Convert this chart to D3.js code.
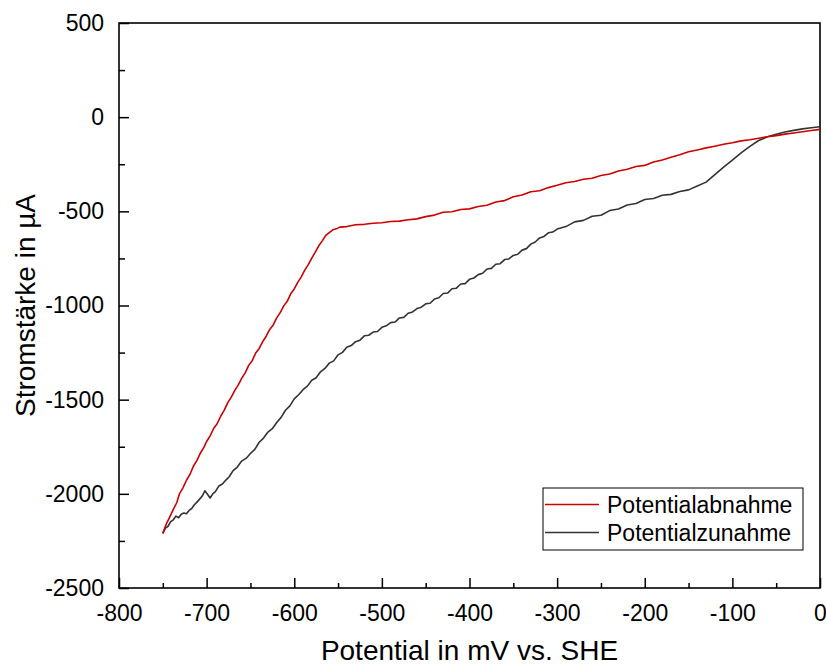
<!DOCTYPE html>
<html>
<head>
<meta charset="utf-8">
<script src="https://cdn.jsdelivr.net/npm/d3@7"></script>
<style>
  body { margin: 0; background: #fff; }
  #outer { width: 826px; height: 666px; }
</style>
</head>
<body>
<div id="outer"></div>
<script>
////////// Data //////////
const seriesNames = ['Potentialabnahme', 'Potentialzunahme'];
const seriesColors = ['#cc0000', '#333333'];

// Potential in mV vs. SHE, current in µA
const potentialabnahme = [
  [-750, -2210], [-746, -2160], [-742, -2122], [-738, -2083], [-734, -2046], [-731, -2000],
  [-727, -1968], [-723, -1928], [-719, -1897], [-715, -1852], [-711, -1822], [-707, -1783],
  [-703, -1752], [-700, -1722], [-696, -1692], [-692, -1653], [-688, -1628], [-684, -1588],
  [-680, -1557], [-676, -1517], [-672, -1488], [-668, -1452], [-664, -1423], [-660, -1387],
  [-656, -1358], [-652, -1318], [-648, -1293], [-644, -1252], [-640, -1228], [-636, -1192],
  [-632, -1163], [-628, -1127], [-624, -1103], [-620, -1066], [-616, -1038], [-612, -1002],
  [-608, -978], [-604, -938], [-600, -912], [-596, -877], [-592, -848], [-588, -812],
  [-584, -783], [-580, -748], [-576, -717], [-572, -683], [-568, -657], [-564, -628],
  [-560, -613], [-556, -598], [-552, -593], [-548, -584], [-540, -581], [-530, -571],
  [-520, -569], [-510, -563], [-500, -561], [-490, -554], [-480, -552], [-470, -545],
  [-460, -540], [-450, -528], [-440, -520], [-430, -505], [-420, -502], [-410, -490],
  [-400, -487], [-390, -474], [-380, -468], [-370, -450], [-360, -443], [-350, -423],
  [-340, -413], [-330, -396], [-320, -391], [-310, -374], [-300, -362], [-290, -348],
  [-280, -342], [-270, -330], [-260, -324], [-250, -310], [-240, -302], [-230, -286],
  [-220, -277], [-210, -262], [-200, -256], [-190, -238], [-180, -227], [-170, -213],
  [-160, -200], [-150, -184], [-140, -174], [-130, -163], [-120, -154], [-110, -144],
  [-100, -136], [-90, -126], [-80, -120], [-70, -112], [-60, -104], [-50, -98],
  [-40, -90], [-30, -84], [-20, -77], [-10, -71], [0, -65]
];

const potentialzunahme = [
  [-750, -2210], [-747, -2182], [-744, -2172], [-741, -2148], [-738, -2138], [-735, -2118],
  [-732, -2127], [-729, -2108], [-726, -2102], [-723, -2106], [-720, -2088], [-717, -2078],
  [-714, -2058], [-711, -2044], [-708, -2028], [-705, -2012], [-702, -1984], [-699, -2002],
  [-696, -2022], [-693, -2000], [-690, -1988], [-686, -1958], [-682, -1948], [-678, -1927],
  [-674, -1908], [-670, -1878], [-665, -1858], [-660, -1826], [-655, -1812], [-650, -1786],
  [-645, -1764], [-640, -1726], [-635, -1704], [-630, -1672], [-625, -1654], [-620, -1621],
  [-615, -1594], [-610, -1556], [-605, -1533], [-600, -1496], [-595, -1474], [-590, -1447],
  [-585, -1428], [-580, -1397], [-575, -1384], [-570, -1352], [-565, -1334], [-560, -1306],
  [-555, -1294], [-550, -1262], [-545, -1249], [-540, -1222], [-535, -1213], [-530, -1192],
  [-525, -1184], [-520, -1161], [-515, -1158], [-510, -1141], [-505, -1138], [-500, -1116],
  [-495, -1108], [-490, -1091], [-485, -1088], [-480, -1066], [-475, -1063], [-470, -1041],
  [-465, -1034], [-460, -1016], [-455, -1009], [-450, -991], [-445, -988], [-440, -966],
  [-435, -959], [-430, -936], [-425, -934], [-420, -911], [-415, -908], [-410, -886],
  [-405, -884], [-400, -861], [-395, -854], [-390, -836], [-385, -829], [-380, -806],
  [-375, -803], [-370, -781], [-365, -778], [-360, -756], [-355, -753], [-350, -734],
  [-345, -728], [-340, -706], [-335, -698], [-330, -674], [-325, -663], [-320, -641],
  [-315, -633], [-310, -614], [-305, -610], [-300, -594], [-290, -581], [-280, -556],
  [-270, -548], [-260, -526], [-250, -521], [-240, -496], [-230, -488], [-220, -466],
  [-210, -458], [-200, -437], [-190, -432], [-180, -415], [-170, -410], [-160, -395],
  [-150, -386], [-140, -366], [-130, -345], [-120, -305], [-110, -265], [-100, -228],
  [-90, -190], [-80, -155], [-70, -124], [-65, -115], [-60, -104], [-50, -91],
  [-40, -79], [-30, -70], [-20, -62], [-10, -56], [0, -51]
];

const seriesData = [potentialabnahme, potentialzunahme];

const xDomain = [-800, 0];
const yDomain = [-2500, 500];
const xMajorTicks = [-800, -700, -600, -500, -400, -300, -200, -100, 0];
const yMajorTicks = [-2500, -2000, -1500, -1000, -500, 0, 500];

////////// Layout //////////
const svgWidth = 826;
const svgHeight = 666;
const plot = { left: 119, right: 820, top: 23, bottom: 588 };
const fontFamily = 'Arial, "Liberation Sans", sans-serif';
const plainNumber = d => String(d); // ascii hyphen, no thousands separator

const svg = d3.select('#outer').append('svg')
  .attr('width', svgWidth)
  .attr('height', svgHeight);

const xScale = d3.scaleLinear().domain(xDomain).range([plot.left, plot.right]);
const yScale = d3.scaleLinear().domain(yDomain).range([plot.bottom, plot.top]);

////////// Minor ticks //////////
const xMinor = d3.range(xDomain[0], xDomain[1] + 1, 50).filter(v => v % 100 !== 0);
const yMinor = d3.range(yDomain[0], yDomain[1] + 1, 250).filter(v => v % 500 !== 0);

svg.append('g')
  .attr('transform', `translate(0,${plot.bottom})`)
  .call(d3.axisBottom(xScale).tickValues(xMinor).tickSize(-5).tickFormat(''))
  .call(g => g.select('.domain').remove())
  .selectAll('line').attr('stroke', '#000').attr('stroke-width', 1.5);

svg.append('g')
  .attr('transform', `translate(${plot.left},0)`)
  .call(d3.axisLeft(yScale).tickValues(yMinor).tickSize(-6).tickFormat(''))
  .call(g => g.select('.domain').remove())
  .selectAll('line').attr('stroke', '#000').attr('stroke-width', 1.5);

////////// Major axes //////////
const xAxis = svg.append('g')
  .attr('transform', `translate(0,${plot.bottom})`)
  .call(d3.axisBottom(xScale).tickValues(xMajorTicks).tickFormat(plainNumber)
    .tickSize(-10).tickPadding(17).tickSizeOuter(0));

const yAxis = svg.append('g')
  .attr('transform', `translate(${plot.left},0)`)
  .call(d3.axisLeft(yScale).tickValues(yMajorTicks).tickFormat(plainNumber)
    .tickSize(-10).tickPadding(15).tickSizeOuter(0));

[xAxis, yAxis].forEach(ax => {
  ax.select('.domain').remove();
  ax.selectAll('line').attr('stroke', '#000').attr('stroke-width', 1.5);
  ax.selectAll('text')
    .attr('fill', '#000')
    .style('font-family', fontFamily)
    .style('font-size', '23px');
});

// frame around the plot
svg.append('rect')
  .attr('x', plot.left)
  .attr('y', plot.top)
  .attr('width', plot.right - plot.left)
  .attr('height', plot.bottom - plot.top)
  .attr('fill', 'none')
  .attr('stroke', '#000')
  .attr('stroke-width', 1.6);

////////// Curves //////////
const line = d3.line()
  .x(d => xScale(d[0]))
  .y(d => yScale(d[1]));

// draw the increasing-potential curve first so the red one sits on top
[1, 0].forEach(i => {
  svg.append('path')
    .datum(seriesData[i])
    .attr('fill', 'none')
    .attr('stroke', seriesColors[i])
    .attr('stroke-width', 1.6)
    .attr('stroke-linejoin', 'round')
    .attr('d', line);
});

////////// Axis titles //////////
svg.append('text')
  .attr('x', (plot.left + plot.right) / 2)
  .attr('y', 660)
  .attr('text-anchor', 'middle')
  .style('font-family', fontFamily)
  .style('font-size', '28px')
  .attr('fill', '#000')
  .text('Potential in mV vs. SHE');

svg.append('text')
  .attr('transform', `translate(35,${(plot.top + plot.bottom) / 2}) rotate(-90)`)
  .attr('text-anchor', 'middle')
  .style('font-family', fontFamily)
  .style('font-size', '28px')
  .attr('fill', '#000')
  .text('Stromstärke in µA');

////////// Legend //////////
const legend = svg.append('g').attr('class', 'legend');

legend.append('rect')
  .attr('x', 543)
  .attr('y', 488)
  .attr('width', 260)
  .attr('height', 62)
  .attr('fill', '#fff')
  .attr('stroke', '#000')
  .attr('stroke-width', 1);

seriesNames.forEach((name, i) => {
  const cy = 504.5 + i * 28;
  legend.append('line')
    .attr('x1', 545).attr('x2', 599)
    .attr('y1', cy).attr('y2', cy)
    .attr('stroke', seriesColors[i])
    .attr('stroke-width', 1.6);
  legend.append('text')
    .attr('x', 607)
    .attr('y', cy + 8)
    .style('font-family', fontFamily)
    .style('font-size', '23px')
    .attr('fill', '#000')
    .text(name);
});
</script>
</body>
</html>
